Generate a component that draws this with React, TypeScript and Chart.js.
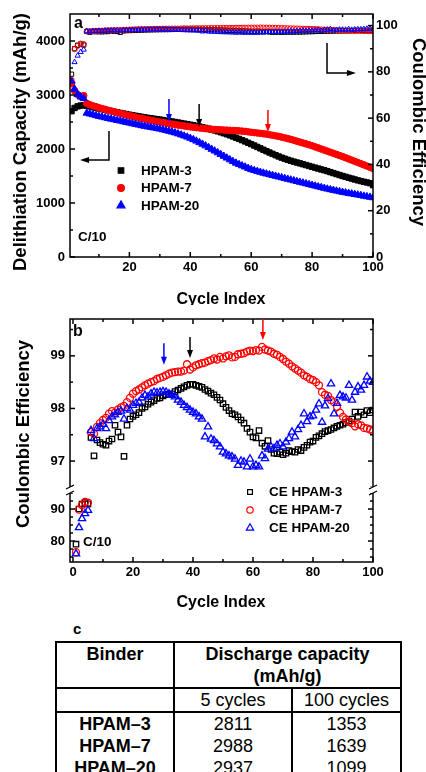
import React, { useEffect, useRef } from "react";
import { Chart, registerables } from "chart.js";

Chart.register(...registerables);

const FONT = "'Liberation Sans', Arial, Helvetica, sans-serif";
const RED = "#ff0000";
const BLUE = "#0000ff";
const BLACK = "#000000";

const CYCLES = [
  1, 2, 3, 4, 5, 6, 7, 8, 9, 10,
  11, 12, 13, 14, 15, 16, 17, 18, 19, 20,
  21, 22, 23, 24, 25, 26, 27, 28, 29, 30,
  31, 32, 33, 34, 35, 36, 37, 38, 39, 40,
  41, 42, 43, 44, 45, 46, 47, 48, 49, 50,
  51, 52, 53, 54, 55, 56, 57, 58, 59, 60,
  61, 62, 63, 64, 65, 66, 67, 68, 69, 70,
  71, 72, 73, 74, 75, 76, 77, 78, 79, 80,
  81, 82, 83, 84, 85, 86, 87, 88, 89, 90,
  91, 92, 93, 94, 95, 96, 97, 98, 99, 100,
];

// Delithiation capacity (mAh/g)
const CAP_HPAM3 = [
  2700, 2760, 2790, 2805, 2811, 2800, 2788, 2775, 2762, 2750,
  2738, 2726, 2714, 2702, 2690, 2679, 2668, 2657, 2646, 2635,
  2625, 2615, 2605, 2595, 2585, 2577, 2569, 2561, 2553, 2545,
  2536, 2527, 2518, 2509, 2500, 2490, 2480, 2470, 2460, 2450,
  2439, 2427, 2415, 2403, 2390, 2376, 2361, 2345, 2328, 2310,
  2292, 2273, 2253, 2232, 2210, 2187, 2164, 2140, 2115, 2090,
  2064, 2038, 2012, 1986, 1960, 1935, 1910, 1886, 1862, 1840,
  1820, 1801, 1783, 1766, 1750, 1734, 1718, 1702, 1686, 1670,
  1654, 1638, 1622, 1606, 1590, 1572, 1554, 1536, 1518, 1500,
  1484, 1468, 1452, 1436, 1420, 1406, 1393, 1380, 1366, 1353,
];
const CAP_HPAM7 = [
  3210, 3080, 3010, 2975, 2988, 2845, 2820, 2800, 2785, 2765,
  2750, 2735, 2718, 2705, 2690, 2672, 2660, 2645, 2630, 2618,
  2605, 2590, 2578, 2565, 2555, 2542, 2530, 2520, 2510, 2500,
  2490, 2480, 2470, 2460, 2452, 2443, 2435, 2426, 2418, 2410,
  2403, 2396, 2390, 2382, 2376, 2370, 2366, 2362, 2358, 2355,
  2352, 2349, 2346, 2343, 2340, 2336, 2331, 2326, 2318, 2310,
  2304, 2297, 2290, 2283, 2275, 2265, 2255, 2245, 2233, 2220,
  2207, 2193, 2178, 2162, 2145, 2128, 2112, 2095, 2078, 2060,
  2040, 2020, 2000, 1980, 1960, 1940, 1920, 1900, 1880, 1860,
  1838, 1816, 1794, 1772, 1750, 1728, 1706, 1684, 1662, 1639,
];
const CAP_HPAM20 = [
  3260, 3110, 3010, 2965, 2937, 2665, 2650, 2636, 2620, 2605,
  2593, 2580, 2568, 2555, 2543, 2531, 2519, 2507, 2494, 2482,
  2470, 2458, 2446, 2434, 2422, 2412, 2402, 2392, 2381, 2370,
  2357, 2344, 2330, 2315, 2300, 2282, 2263, 2243, 2222, 2200,
  2175, 2148, 2120, 2091, 2060, 2029, 1997, 1965, 1932, 1900,
  1867, 1834, 1801, 1770, 1740, 1714, 1690, 1668, 1643, 1620,
  1603, 1587, 1571, 1555, 1540, 1526, 1512, 1498, 1484, 1470,
  1456, 1442, 1428, 1414, 1400, 1386, 1372, 1358, 1344, 1330,
  1316, 1302, 1288, 1274, 1260, 1248, 1236, 1224, 1212, 1200,
  1190, 1180, 1170, 1160, 1150, 1140, 1129, 1119, 1109, 1099,
];

// Coulombic efficiency (%)
const CE_HPAM3 = [
  79, 90, 91.5, 92, 91.6, 97.45, 97.1, 97.4, 97.35, 97.32,
  97.3, 97.38, 97.42, 97.68, 97.55, 97.46, 97.09, 97.68, 97.8, 97.85,
  97.88, 97.92, 98.0, 98.03, 98.08, 98.12, 98.15, 98.19, 98.2, 98.24,
  98.26, 98.27, 98.28, 98.32, 98.35, 98.38, 98.41, 98.44, 98.46, 98.46,
  98.44, 98.42, 98.4, 98.36, 98.33, 98.29, 98.26, 98.21, 98.16, 98.09,
  98.02, 97.96, 97.9, 97.88, 97.84, 97.78, 97.72, 97.62, 97.55, 97.46,
  97.44, 97.58, 97.34, 97.28, 97.39, 97.22, 97.15, 97.14, 97.17, 97.12,
  97.15, 97.2, 97.18, 97.17, 97.22, 97.2, 97.26, 97.3, 97.36, 97.38,
  97.45, 97.48, 97.52, 97.56, 97.58, 97.6, 97.63, 97.66, 97.68, 97.7,
  97.73, 97.76, 97.8, 97.93, 97.85, 97.93, 97.88, 97.96, 97.92, 97.97,
];
const CE_HPAM7 = [
  76.5, 89.8, 91.2, 92.2, 92.0, 97.55, 97.52, 97.65, 97.72, 97.78,
  97.82, 97.9, 97.95, 97.92, 97.98, 98.02, 98.05, 98.12, 98.2, 98.28,
  98.33, 98.36, 98.4, 98.44, 98.47, 98.5, 98.52, 98.56, 98.58, 98.6,
  98.63, 98.66, 98.68, 98.69, 98.7, 98.7, 98.72, 98.84, 98.74, 98.78,
  98.82, 98.84, 98.86, 98.87, 98.9, 98.92, 98.95, 98.93, 98.98, 98.95,
  98.99, 99.01, 98.97, 98.98, 99.03, 99.04, 99.05, 99.08, 99.1, 99.09,
  99.11, 99.1, 99.17, 99.12, 99.1, 99.08, 99.04, 99.02, 98.98, 98.94,
  98.89, 98.85, 98.8, 98.76, 98.72, 98.68, 98.63, 98.6, 98.56, 98.54,
  98.5, 98.44, 98.31, 98.26, 98.24, 98.16, 98.12, 98.03, 97.92, 97.84,
  97.79, 97.74, 97.72, 97.66, 97.7, 97.68, 97.63, 97.62, 97.6, 97.57,
];
const CE_HPAM20 = [
  76, 84.2, 87, 88.6, 89.6, 97.58, 97.43, 97.62, 97.65, 97.7,
  97.62, 97.77, 97.84, 97.88, 97.93, 97.95, 97.8, 98.0, 97.97, 98.06,
  98.1, 98.12, 98.2, 98.25, 98.22, 98.28, 98.31, 98.3, 98.31, 98.32,
  98.31, 98.28, 98.25, 98.22, 98.16, 98.12, 98.06, 98.02, 97.97, 97.93,
  97.9, 97.84, 97.8, 97.46, 97.65, 97.42, 97.39, 97.33, 97.27, 97.17,
  97.14, 97.1, 97.08, 97.04, 96.92, 97.0, 96.98, 96.89, 97.04, 96.89,
  96.92, 96.89, 97.1, 97.05, 97.23, 97.27, 97.24, 97.3, 97.33, 97.27,
  97.36, 97.43, 97.55, 97.46, 97.6, 97.68, 97.9, 97.75, 97.84, 97.86,
  97.97, 98.09, 97.74, 98.05, 98.19, 98.47, 97.9, 98.1, 98.25, 98.22,
  98.2, 98.44, 98.16, 98.31, 98.41, 98.35, 98.44, 98.6, 98.52, 98.5,
];

// Tick values
const A_X_TICKS = [20, 40, 60, 80, 100];
const A_X_MINOR = [10, 30, 50, 70, 90];
const A_CAP_TICKS = [0, 1000, 2000, 3000, 4000];
const A_CAP_MINOR = [500, 1500, 2500, 3500];
const A_CE_TICKS = [0, 20, 40, 60, 80, 100];
const A_CE_MINOR = [10, 30, 50, 70, 90];
const B_X_TICKS = [0, 20, 40, 60, 80, 100];
const B_X_MINOR = [10, 30, 50, 70, 90];
const B_HIGH_TICKS = [97, 98, 99];
const B_HIGH_MINOR = [96.5, 97.5, 98.5, 99.5];
const B_LOW_TICKS = [80, 90];
const B_LOW_MINOR = [75, 77.5, 82.5, 85, 87.5, 92.5, 95];
const B_BREAK = 96;

// Table
const TABLE_BINDERS = ["HPAM\u20133", "HPAM\u20137", "HPAM\u201320"];
const TABLE_5 = [2811, 2988, 2937];
const TABLE_100 = [1353, 1639, 1099];

const toPts = (ys: number[]) => CYCLES.map((c, i) => ({ x: c, y: ys[i] }));
const splitPts = (ys: number[], upper: boolean) =>
  toPts(ys).filter((p) => (upper ? p.y >= B_BREAK : p.y < B_BREAK));

function drawMarker(ctx: CanvasRenderingContext2D, style: string, x: number, y: number, r: number, color: string, filled: boolean) {
  ctx.beginPath();
  if (style === "rect") {
    const s = r * Math.SQRT2;
    ctx.rect(x - s / 2, y - s / 2, s, s);
  } else if (style === "triangle") {
    ctx.moveTo(x, y - r);
    ctx.lineTo(x + r * 0.866, y + r * 0.5);
    ctx.lineTo(x - r * 0.866, y + r * 0.5);
    ctx.closePath();
  } else {
    ctx.arc(x, y, r, 0, Math.PI * 2);
  }
  if (filled) {
    ctx.fillStyle = color;
    ctx.fill();
  }
  ctx.strokeStyle = color;
  ctx.lineWidth = 1.2;
  ctx.stroke();
}

function makeDecor(cfg: any) {
  return {
    id: "decor",
    afterDraw(chart: any) {
      const ctx: CanvasRenderingContext2D = chart.ctx;
      const a = chart.chartArea;
      ctx.save();
      // frame
      ctx.strokeStyle = "#000";
      ctx.lineWidth = 1.5;
      ctx.strokeRect(a.left, a.top, a.right - a.left, a.bottom - a.top);
      // ticks (inward)
      for (const t of cfg.ticks) {
        const sc = chart.scales[t.scale];
        const groups: [number[], number][] = [[t.major, 5], [t.minor, 3]];
        for (const [vals, len] of groups) {
          for (const v of vals) {
            const p = sc.getPixelForValue(v);
            for (const e of t.edges) {
              ctx.beginPath();
              if (e === "bottom") { ctx.moveTo(p, a.bottom); ctx.lineTo(p, a.bottom - len); }
              if (e === "top") { ctx.moveTo(p, a.top); ctx.lineTo(p, a.top + len); }
              if (e === "left") { ctx.moveTo(a.left, p); ctx.lineTo(a.left + len, p); }
              if (e === "right") { ctx.moveTo(a.right, p); ctx.lineTo(a.right - len, p); }
              ctx.stroke();
            }
          }
        }
      }
      // axis break marks
      if (cfg.breakScale) {
        const y = chart.scales[cfg.breakScale].bottom;
        for (const x of [a.left, a.right]) {
          ctx.fillStyle = "#fff";
          ctx.fillRect(x - 4, y - 3, 8, 6);
          ctx.strokeStyle = "#000";
          ctx.lineWidth = 1.2;
          ctx.beginPath();
          ctx.moveTo(x - 4, y - 1); ctx.lineTo(x + 4, y - 5);
          ctx.moveTo(x - 4, y + 5); ctx.lineTo(x + 4, y + 1);
          ctx.stroke();
        }
      }
      // arrows
      for (const ar of cfg.arrows) {
        const sx = chart.scales[ar.xScale];
        const sy = chart.scales[ar.yScale];
        const pts = ar.xs.map((xv: number, i: number) => [sx.getPixelForValue(xv), sy.getPixelForValue(ar.ys[i])]);
        const n = pts.length;
        const [x1, y1] = pts[n - 2];
        const [x2, y2] = pts[n - 1];
        const ang = Math.atan2(y2 - y1, x2 - x1);
        ctx.strokeStyle = ar.color;
        ctx.fillStyle = ar.color;
        ctx.lineWidth = 1.5;
        ctx.beginPath();
        ctx.moveTo(pts[0][0], pts[0][1]);
        for (let i = 1; i < n - 1; i++) ctx.lineTo(pts[i][0], pts[i][1]);
        ctx.lineTo(x2 - Math.cos(ang) * ar.head * 0.8, y2 - Math.sin(ang) * ar.head * 0.8);
        ctx.stroke();
        const L = ar.head, W = ar.headW / 2;
        const bx = x2 - L * Math.cos(ang), by = y2 - L * Math.sin(ang);
        ctx.beginPath();
        ctx.moveTo(x2, y2);
        ctx.lineTo(bx + W * Math.sin(ang), by - W * Math.cos(ang));
        ctx.lineTo(bx - W * Math.sin(ang), by + W * Math.cos(ang));
        ctx.closePath();
        ctx.fill();
      }
      // legend
      if (cfg.legend) {
        const lg = cfg.legend;
        lg.items.forEach((it: any, i: number) => {
          const y = lg.ys[i];
          drawMarker(ctx, it.style, lg.mx, y, it.r, it.color, lg.filled);
          ctx.fillStyle = "#000";
          ctx.font = lg.font;
          ctx.textAlign = "left";
          ctx.textBaseline = "middle";
          ctx.fillText(it.text, lg.tx, y + 0.5);
        });
      }
      // texts
      for (const t of cfg.texts) {
        ctx.save();
        ctx.font = t.font;
        ctx.fillStyle = "#000";
        ctx.textAlign = t.align || "center";
        ctx.textBaseline = "middle";
        ctx.translate(t.x, t.y);
        if (t.rot) ctx.rotate((t.rot * Math.PI) / 180);
        ctx.fillText(t.text, 0, 0);
        ctx.restore();
      }
      ctx.restore();
    },
  };
}

const tickFont = { family: FONT, size: 13, weight: "bold" as const };
const mkTicks = (padding: number) => ({
  font: tickFont,
  color: "#000",
  padding,
  maxRotation: 0,
  autoSkip: false,
  callback: (v: any) => String(v),
});
const noGrid = { display: false, drawTicks: false };
const setTicks = (vals: number[]) => (s: any) => {
  s.ticks = vals.map((v) => ({ value: v }));
};

const TITLE_FONT = `bold 18.5px ${FONT}`;
const XTITLE_FONT = `bold 16px ${FONT}`;
const LEG_FONT = `bold 13.5px ${FONT}`;
const LABEL_FONT = `bold 16px ${FONT}`;

function buildChartA(canvas: HTMLCanvasElement) {
  const filled = (c: string) => ({ backgroundColor: c, borderColor: c, borderWidth: 1 });
  const hollow = (c: string) => ({ backgroundColor: "rgba(0,0,0,0)", borderColor: c, borderWidth: 1 });
  const decor = makeDecor({
    ticks: [
      { scale: "x", major: A_X_TICKS, minor: A_X_MINOR, edges: ["bottom", "top"] },
      { scale: "y", major: A_CAP_TICKS, minor: A_CAP_MINOR, edges: ["left"] },
      { scale: "yR", major: A_CE_TICKS, minor: A_CE_MINOR, edges: ["right"] },
    ],
    arrows: [
      { xScale: "x", yScale: "y", xs: [33.0, 33.0], ys: [2926, 2500], color: BLUE, head: 8, headW: 6 },
      { xScale: "x", yScale: "y", xs: [42.9, 42.9], ys: [2833, 2407], color: BLACK, head: 8, headW: 6 },
      { xScale: "x", yScale: "y", xs: [65.5, 65.5], ys: [2722, 2315], color: RED, head: 8, headW: 6 },
      { xScale: "x", yScale: "y", xs: [13.3, 13.3, 3.8], ys: [2333, 1796, 1796], color: BLACK, head: 9, headW: 6 },
      { xScale: "x", yScale: "yR", xs: [84.9, 84.9, 94.4], ys: [92.5, 79.5, 79.5], color: BLACK, head: 9, headW: 6 },
    ],
    legend: {
      mx: 121, tx: 141, ys: [170.5, 188, 205.5], filled: true, font: LEG_FONT,
      items: [
        { text: "HPAM-3", color: BLACK, style: "rect", r: 3.9 },
        { text: "HPAM-7", color: RED, style: "circle", r: 3.4 },
        { text: "HPAM-20", color: BLUE, style: "triangle", r: 4.6 },
      ],
    },
    texts: [
      { text: "a", x: 74, y: 24, font: LABEL_FONT, align: "left" },
      { text: "C/10", x: 78, y: 237, font: LEG_FONT, align: "left" },
      { text: "Delithiation Capacity (mAh/g)", x: 21, y: 142, font: TITLE_FONT, rot: -90 },
      { text: "Coulombic Efficiency", x: 418, y: 132, font: TITLE_FONT, rot: 90 },
      { text: "Cycle Index", x: 221, y: 300, font: XTITLE_FONT },
    ],
  });
  return new Chart(canvas, {
    type: "scatter",
    data: {
      datasets: [
        { label: "CE HPAM-20", data: toPts(CE_HPAM20), yAxisID: "yR", pointStyle: "triangle", pointRadius: 3, order: 0, ...hollow(BLUE) },
        { label: "CE HPAM-7", data: toPts(CE_HPAM7), yAxisID: "yR", pointStyle: "circle", pointRadius: 2.6, order: 0.5, ...hollow(RED) },
        { label: "CE HPAM-3", data: toPts(CE_HPAM3), yAxisID: "yR", pointStyle: "rect", pointRadius: 3, order: 0.7, ...hollow(BLACK) },
        { label: "HPAM-20", data: toPts(CAP_HPAM20), yAxisID: "y", pointStyle: "triangle", pointRadius: 4.2, order: 1, ...filled(BLUE) },
        { label: "HPAM-7", data: toPts(CAP_HPAM7), yAxisID: "y", pointStyle: "circle", pointRadius: 3.3, order: 2, ...filled(RED) },
        { label: "HPAM-3", data: toPts(CAP_HPAM3), yAxisID: "y", pointStyle: "rect", pointRadius: 3.8, order: 3, ...filled(BLACK) },
      ] as any,
    },
    options: {
      responsive: false,
      animation: false,
      events: [],
      layout: { padding: { top: 14, left: 0, right: 0, bottom: 0 } },
      plugins: { legend: { display: false }, tooltip: { enabled: false } },
      scales: {
        x: {
          type: "linear", position: "bottom", min: 0.5, max: 100,
          grid: noGrid, border: { display: false }, ticks: mkTicks(3),
          afterBuildTicks: setTicks(A_X_TICKS), afterFit: (s: any) => { s.height = 48; },
        },
        y: {
          type: "linear", position: "left", min: 0, max: 4500,
          grid: noGrid, border: { display: false }, ticks: mkTicks(5),
          afterBuildTicks: setTicks(A_CAP_TICKS), afterFit: (s: any) => { s.width = 70; },
        },
        yR: {
          type: "linear", position: "right", min: 0, max: 105,
          grid: noGrid, border: { display: false }, ticks: mkTicks(3),
          afterBuildTicks: setTicks(A_CE_TICKS), afterFit: (s: any) => { s.width = 53; },
        },
      },
    } as any,
    plugins: [decor],
  });
}

function buildChartB(canvas: HTMLCanvasElement) {
  const hollow = (c: string) => ({ backgroundColor: "rgba(0,0,0,0)", borderColor: c, borderWidth: 1.3 });
  const series = [
    { label: "CE HPAM-20", ys: CE_HPAM20, style: "triangle", r: 4.2, color: BLUE, order: 1 },
    { label: "CE HPAM-7", ys: CE_HPAM7, style: "circle", r: 3.5, color: RED, order: 2 },
    { label: "CE HPAM-3", ys: CE_HPAM3, style: "rect", r: 3.8, color: BLACK, order: 3 },
  ];
  const datasets: any[] = [];
  for (const s of series) {
    datasets.push({ label: s.label, data: splitPts(s.ys, true), yAxisID: "yHigh", pointStyle: s.style, pointRadius: s.r, order: s.order, ...hollow(s.color) });
    datasets.push({ label: s.label + " (early)", data: splitPts(s.ys, false), yAxisID: "yLow", pointStyle: s.style, pointRadius: s.r, order: s.order, ...hollow(s.color) });
  }
  const decor = makeDecor({
    ticks: [
      { scale: "x", major: B_X_TICKS, minor: B_X_MINOR, edges: ["bottom", "top"] },
      { scale: "yHigh", major: B_HIGH_TICKS, minor: B_HIGH_MINOR, edges: ["left", "right"] },
      { scale: "yLow", major: B_LOW_TICKS, minor: B_LOW_MINOR, edges: ["left", "right"] },
    ],
    breakScale: "yHigh",
    arrows: [
      { xScale: "x", yScale: "yHigh", xs: [30.3, 30.3], ys: [99.24, 98.83], color: BLUE, head: 8, headW: 6 },
      { xScale: "x", yScale: "yHigh", xs: [39.0, 39.0], ys: [99.36, 98.96], color: BLACK, head: 8, headW: 6 },
      { xScale: "x", yScale: "yHigh", xs: [63.3, 63.3], ys: [99.7, 99.3], color: RED, head: 8, headW: 6 },
    ],
    legend: {
      mx: 250, tx: 269, ys: [187, 205, 223], filled: false, font: LEG_FONT,
      items: [
        { text: "CE HPAM-3", color: BLACK, style: "rect", r: 3.4 },
        { text: "CE HPAM-7", color: RED, style: "circle", r: 3.2 },
        { text: "CE HPAM-20", color: BLUE, style: "triangle", r: 4.2 },
      ],
    },
    texts: [
      { text: "b", x: 73, y: 27, font: LABEL_FONT, align: "left" },
      { text: "C/10", x: 83, y: 237, font: LEG_FONT, align: "left" },
      { text: "Coulombic Efficiency", x: 24, y: 129, font: TITLE_FONT, rot: -90 },
      { text: "Cycle Index", x: 221, y: 298, font: XTITLE_FONT },
    ],
  });
  return new Chart(canvas, {
    type: "scatter",
    data: { datasets },
    options: {
      responsive: false,
      animation: false,
      events: [],
      layout: { padding: { top: 14, left: 0, right: 53, bottom: 0 } },
      plugins: { legend: { display: false }, tooltip: { enabled: false } },
      scales: {
        x: {
          type: "linear", position: "bottom", min: -1, max: 100,
          grid: noGrid, border: { display: false }, ticks: mkTicks(3),
          afterBuildTicks: setTicks(B_X_TICKS), afterFit: (s: any) => { s.height = 48; },
        },
        yLow: {
          type: "linear", position: "left", min: 73.44, max: 95.94,
          stack: "ce", stackWeight: 72,
          grid: noGrid, border: { display: false }, ticks: mkTicks(5),
          afterBuildTicks: setTicks(B_LOW_TICKS), afterFit: (s: any) => { s.width = 70; },
        },
        yHigh: {
          type: "linear", position: "left", min: 96.45, max: 99.7,
          stack: "ce", stackWeight: 171,
          grid: noGrid, border: { display: false }, ticks: mkTicks(5),
          afterBuildTicks: setTicks(B_HIGH_TICKS), afterFit: (s: any) => { s.width = 70; },
        },
      },
    } as any,
    plugins: [decor],
  });
}

const cellAll: React.CSSProperties = { border: "2px solid #000", padding: 0, textAlign: "center" };
const cellSide: React.CSSProperties = { borderLeft: "2px solid #000", borderRight: "2px solid #000", padding: 0, textAlign: "center" };

export default function App() {
  const refA = useRef<HTMLCanvasElement | null>(null);
  const refB = useRef<HTMLCanvasElement | null>(null);
  useEffect(() => {
    const ca = buildChartA(refA.current as HTMLCanvasElement);
    const cb = buildChartB(refB.current as HTMLCanvasElement);
    return () => {
      ca.destroy();
      cb.destroy();
    };
  }, []);
  return (
    <div style={{ position: "absolute", left: 0, top: 0, width: 426, height: 772, overflow: "hidden", background: "#fff" }}>
      <canvas ref={refA} width={426} height={305} style={{ position: "absolute", left: 0, top: 0, display: "block" }} />
      <canvas ref={refB} width={426} height={305} style={{ position: "absolute", left: 0, top: 305, display: "block" }} />
      <div style={{ position: "absolute", left: 73, top: 620, font: `bold 15px ${FONT}`, lineHeight: "18px", color: "#000" }}>c</div>
      <table
        style={{
          position: "absolute", left: 55, top: 641, width: 345, borderCollapse: "collapse", tableLayout: "fixed",
          fontFamily: FONT, fontSize: 18, lineHeight: "22px", color: "#000",
        }}
      >
        <colgroup>
          <col style={{ width: 118 }} />
          <col style={{ width: 118 }} />
          <col style={{ width: 109 }} />
        </colgroup>
        <tbody>
          <tr style={{ height: 44 }}>
            <td style={{ ...cellAll, fontWeight: "bold", verticalAlign: "top" }}>Binder</td>
            <td colSpan={2} style={{ ...cellAll, fontWeight: "bold" }}>
              Discharge capacity
              <br />
              (mAh/g)
            </td>
          </tr>
          <tr style={{ height: 23 }}>
            <td style={cellAll}></td>
            <td style={cellAll}>5 cycles</td>
            <td style={cellAll}>100 cycles</td>
          </tr>
          {TABLE_BINDERS.map((b, i) => (
            <tr key={b} style={{ height: 22 }}>
              <td style={{ ...cellSide, fontWeight: "bold" }}>{b}</td>
              <td style={cellSide}>{TABLE_5[i]}</td>
              <td style={cellSide}>{TABLE_100[i]}</td>
            </tr>
          ))}
        </tbody>
      </table>
    </div>
  );
}
